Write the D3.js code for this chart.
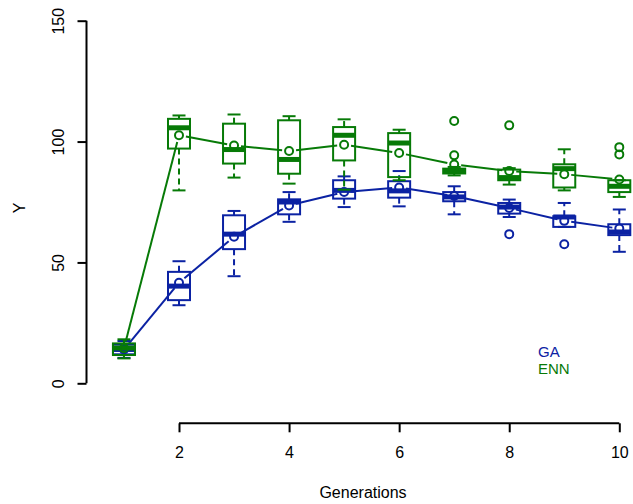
<!DOCTYPE html>
<html>
  <head>
    <meta charset="UTF-8">
    <title>GA vs ENN</title>
    <script src="https://cdnjs.cloudflare.com/ajax/libs/d3/7.8.5/d3.min.js"></script>
    <style>
      body { margin: 0; background: #fff; }
      text { font-family: "Liberation Sans", Arial, sans-serif; fill: #000; }
    </style>
  </head>
  <body>
    <script>
      // generations on the x axis
      var generations = [1, 2, 3, 4, 5, 6, 7, 8, 9, 10];
      var xTicks = [2, 4, 6, 8, 10];
      var yTicks = [0, 50, 100, 150];

      // GA: five-number summaries, means and outliers per generation
      var gaLow    = [10.5, 32.3, 44.3, 66.8, 72.9, 73.2, 69.9, 68.8, 64.7, 54.4];
      var gaQ1     = [12.0, 34.4, 55.5, 69.9, 76.4, 76.8, 75.3, 70.2, 64.7, 61.3];
      var gaMedian = [14.0, 40.2, 61.7, 75.0, 79.8, 79.6, 77.1, 72.9, 68.8, 62.6];
      var gaQ3     = [16.0, 46.1, 69.5, 76.1, 84.0, 83.6, 79.1, 74.6, 69.1, 65.8];
      var gaHigh   = [17.5, 50.5, 71.3, 79.1, 85.6, 87.8, 81.5, 76.0, 74.6, 71.9];
      var gaMean   = [14.0, 41.6, 60.6, 73.6, 79.1, 81.0, 77.5, 72.5, 67.2, 64.0];
      var gaOut    = [[], [], [], [], [], [], [], [61.7], [57.5], []];

      // ENN: same layout
      var ennLow    = [10.3, 79.8, 85.1, 82.6, 80.1, 84.0, 86.0, 82.2, 79.8, 77.1];
      var ennQ1     = [11.7, 97.1, 90.9, 86.7, 92.2, 85.3, 86.8, 84.0, 81.0, 79.1];
      var ennMedian = [14.6, 105.7, 96.7, 92.6, 102.6, 99.4, 87.8, 85.1, 88.8, 81.5];
      var ennQ3     = [16.5, 109.4, 107.4, 108.8, 106.0, 103.5, 88.8, 88.4, 90.6, 84.0];
      var ennHigh   = [18.2, 110.8, 111.2, 110.5, 109.2, 104.9, 89.5, 89.0, 96.8, 84.0];
      var ennMean   = [14.5, 102.6, 98.4, 96.1, 98.7, 95.3, 90.5, 87.8, 86.5, 84.3];
      var ennOut    = [[], [], [], [], [], [], [94.3, 108.5], [106.7], [], [94.7, 97.7]];

      var blue = "#0b22a3";
      var green = "#077a07";

      var svg = d3.select("body").append("svg")
        .attr("width", 633)
        .attr("height", 504);

      var x = d3.scaleLinear().domain([2, 10]).range([179, 619.3]);
      var y = d3.scaleLinear().domain([0, 150]).range([383.3, 20.7]);

      // axes, R style: detached from the plot area
      var yAxis = svg.append("g")
        .attr("transform", "translate(86.5,0)")
        .call(d3.axisLeft(y).tickValues(yTicks).tickSize(9));
      yAxis.selectAll(".tick text")
        .attr("x", null).attr("dy", null)
        .attr("transform", "translate(-22.5,0) rotate(-90)")
        .style("text-anchor", "middle");

      var xAxis = svg.append("g")
        .attr("transform", "translate(0,423.3)")
        .call(d3.axisBottom(x).tickValues(xTicks).tickSize(9).tickPadding(14.5));

      svg.selectAll(".domain").attr("d", null);
      yAxis.append("line").attr("x1", 0).attr("x2", 0).attr("y1", y(0)).attr("y2", y(150));
      xAxis.append("line").attr("x1", x(2)).attr("x2", x(10)).attr("y1", 0).attr("y2", 0);
      svg.selectAll(".tick line, g line").attr("stroke", "#000").attr("stroke-width", 2);
      svg.selectAll(".tick text").style("font-size", "16px");

      svg.append("text").attr("x", 363).attr("y", 497.5)
        .attr("text-anchor", "middle").style("font-size", "16px").text("Generations");
      svg.append("text").attr("transform", "translate(25,208) rotate(-90)")
        .attr("text-anchor", "middle").style("font-size", "16px").text("Y");

      function drawSeries(low, q1, med, q3, high, mean, outs, color) {
        var g = svg.append("g");
        var hw = 11, cw = 6.5;
        generations.forEach(function (gen, i) {
          var cx = x(gen);
          // whiskers
          g.append("line").attr("x1", cx).attr("x2", cx).attr("y1", y(q3[i])).attr("y2", y(high[i]))
            .attr("stroke", color).attr("stroke-width", 2).attr("stroke-dasharray", "6,4");
          g.append("line").attr("x1", cx).attr("x2", cx).attr("y1", y(q1[i])).attr("y2", y(low[i]))
            .attr("stroke", color).attr("stroke-width", 2).attr("stroke-dasharray", "6,4");
          [low[i], high[i]].forEach(function (v) {
            g.append("line").attr("x1", cx - cw).attr("x2", cx + cw).attr("y1", y(v)).attr("y2", y(v))
              .attr("stroke", color).attr("stroke-width", 2);
          });
          // box
          g.append("rect").attr("x", cx - hw).attr("width", 2 * hw)
            .attr("y", y(q3[i])).attr("height", y(q1[i]) - y(q3[i]))
            .attr("fill", "none").attr("stroke", color).attr("stroke-width", 2);
          g.append("line").attr("x1", cx - hw).attr("x2", cx + hw).attr("y1", y(med[i])).attr("y2", y(med[i]))
            .attr("stroke", color).attr("stroke-width", 5);
          // outliers
          outs[i].forEach(function (v) {
            g.append("circle").attr("cx", cx).attr("cy", y(v)).attr("r", 4)
              .attr("fill", "none").attr("stroke", color).attr("stroke-width", 2);
          });
        });

        // means joined by a line, with a gap around each point
        var pts = generations.map(function (gen, i) { return [x(gen), y(mean[i])]; });
        var gap = 7;
        for (var i = 0; i < pts.length - 1; i++) {
          var a = pts[i], b = pts[i + 1];
          var dx = b[0] - a[0], dy = b[1] - a[1], len = Math.sqrt(dx * dx + dy * dy);
          if (len <= 2 * gap) continue;
          g.append("line")
            .attr("x1", a[0] + dx / len * gap).attr("y1", a[1] + dy / len * gap)
            .attr("x2", b[0] - dx / len * gap).attr("y2", b[1] - dy / len * gap)
            .attr("stroke", color).attr("stroke-width", 2);
        }
        g.selectAll(".mean").data(pts).enter().append("circle")
          .attr("cx", function (d) { return d[0]; }).attr("cy", function (d) { return d[1]; })
          .attr("r", 4).attr("fill", "none").attr("stroke", color).attr("stroke-width", 2);
      }

      drawSeries(gaLow, gaQ1, gaMedian, gaQ3, gaHigh, gaMean, gaOut, blue);
      drawSeries(ennLow, ennQ1, ennMedian, ennQ3, ennHigh, ennMean, ennOut, green);

      // legend
      svg.append("text").attr("x", 538).attr("y", 357).style("font-size", "15px")
        .style("fill", blue).text("GA");
      svg.append("text").attr("x", 538).attr("y", 374).style("font-size", "15px")
        .style("fill", green).text("ENN");
    </script>
  </body>
</html>
